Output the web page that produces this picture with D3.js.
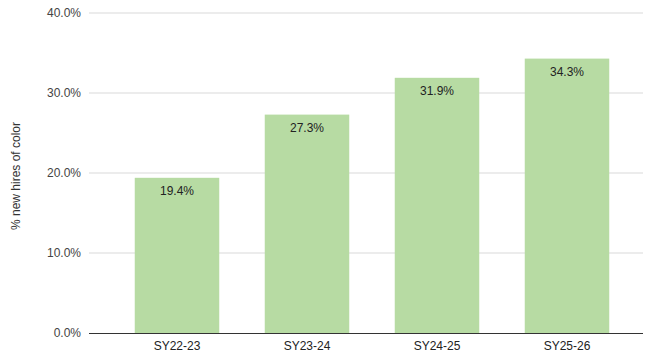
<!DOCTYPE html>
<html>
<head>
<meta charset="utf-8">
<script src="https://cdn.jsdelivr.net/npm/d3@7"></script>
<style>
  html, body { margin: 0; padding: 0; background: #fff; }
  text { font-family: Arial, "Liberation Sans", sans-serif; }
</style>
</head>
<body>
<svg id="chart" width="650" height="355"></svg>
<script>
// data
const categories = ["SY22-23", "SY23-24", "SY24-25", "SY25-26"];
const values = [19.4, 27.3, 31.9, 34.3];
const yTicks = [0, 10, 20, 30, 40];
const yTitle = "% new hires of color";

const svg = d3.select("#chart");

// plot area
const gridLeft = 89, gridRight = 643;
const yTop = 13, yBottom = 333;

const x = d3.scaleBand()
    .domain(categories)
    .range([112, 632])
    .paddingInner(0.35)
    .paddingOuter(0.175);

const y = d3.scaleLinear()
    .domain([0, 40])
    .range([yBottom, yTop]);

// grid lines
svg.append("g")
    .selectAll("line")
    .data(yTicks.filter(d => d > 0))
    .enter().append("line")
    .attr("x1", gridLeft)
    .attr("x2", gridRight)
    .attr("y1", d => y(d))
    .attr("y2", d => y(d))
    .style("stroke", "#d9d9d9")
    .style("stroke-width", 1);

// y tick labels
const yAxis = svg.append("g")
    .attr("transform", "translate(" + (gridLeft - 8) + ",0)")
    .call(d3.axisLeft(y).tickValues(yTicks).tickSize(0).tickPadding(0)
        .tickFormat(d => d.toFixed(1) + "%"));
yAxis.select(".domain").remove();
yAxis.selectAll("text")
    .style("font-size", "12px")
    .style("fill", "#444");

// bars
svg.append("g")
    .selectAll("rect")
    .data(values)
    .enter().append("rect")
    .attr("x", (d, i) => x(categories[i]))
    .attr("width", x.bandwidth())
    .attr("y", d => y(d))
    .attr("height", d => yBottom - y(d))
    .attr("fill", "#b7dba3");

// value labels
svg.append("g")
    .selectAll("text")
    .data(values)
    .enter().append("text")
    .attr("x", (d, i) => x(categories[i]) + x.bandwidth() / 2)
    .attr("y", d => y(d) + 17)
    .attr("text-anchor", "middle")
    .style("font-size", "12px")
    .style("fill", "#222")
    .text(d => d.toFixed(1) + "%");

// baseline
svg.append("line")
    .attr("x1", gridLeft)
    .attr("x2", gridRight)
    .attr("y1", yBottom + 0.5)
    .attr("y2", yBottom + 0.5)
    .style("stroke", "#333")
    .style("stroke-width", 1);

// x labels
const xAxis = svg.append("g")
    .attr("transform", "translate(0," + yBottom + ")")
    .call(d3.axisBottom(x).tickSize(0).tickPadding(8));
xAxis.select(".domain").remove();
xAxis.selectAll("text")
    .style("font-size", "12px")
    .style("fill", "#222");

// y axis title
svg.append("text")
    .attr("transform", "translate(20,176) rotate(-90)")
    .attr("text-anchor", "middle")
    .style("font-size", "12px")
    .style("fill", "#333")
    .text(yTitle);
</script>
</body>
</html>
